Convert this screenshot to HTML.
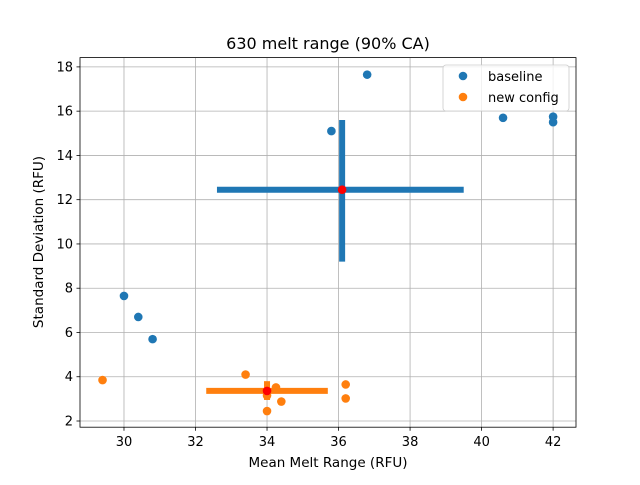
<!DOCTYPE html>
<html><head><meta charset="utf-8"><style>
body{margin:0;background:#fff;font-family:"Liberation Sans","DejaVu Sans",sans-serif}
svg text{font-family:"DejaVu Sans","Liberation Sans",sans-serif}
</style></head><body>
<svg id="c" width="640" height="480"></svg>
<script>
const xTicks=[30,32,34,36,38,40,42];
const yTicks=[2,4,6,8,10,12,14,16,18];
const baseX=[36.8,35.8,40.6,42,42,30,30.4,30.8];
const baseY=[17.65,15.1,15.7,15.75,15.5,7.65,6.7,5.7];
const newX=[29.4,33.4,34.25,34.0,34.0,34.4,36.2,36.2];
const newY=[3.85,4.1,3.52,3.15,2.45,2.88,3.65,3.02];
const baseMean=[36.1,12.45];
const baseXRange=[32.6,39.5];
const baseYRange=[9.2,15.6];
const newMean=[34.0,3.36];
const newXRange=[32.3,35.7];
const newYRange=[2.95,3.8];
const L=80,R=576,T=57.6,B=427.2,xmin=28.77,xmax=42.64,ymin=1.72,ymax=18.42;
const sx=v=>L+(v-xmin)/(xmax-xmin)*(R-L);
const sy=v=>B-(v-ymin)/(ymax-ymin)*(B-T);
const svg=document.getElementById('c');const NS='http://www.w3.org/2000/svg';
function mk(t,a,p){const e=document.createElementNS(NS,t);for(const k in a)e.setAttribute(k,a[k]);(p||svg).appendChild(e);return e;}
xTicks.forEach(v=>{const x=sx(v);
const g=mk('line',{x1:x,x2:x,y1:T,y2:B,stroke:'#b0b0b0','stroke-width':0.8});


mk('line',{x1:x,x2:x,y1:B,y2:B+3.5,stroke:'#000','stroke-width':0.8});
const t=mk('text',{x:x,y:B+19,'text-anchor':'middle','font-size':13});t.textContent=v;

});
yTicks.forEach(v=>{const y=sy(v);
const g=mk('line',{x1:L,x2:R,y1:y,y2:y,stroke:'#b0b0b0','stroke-width':0.8});


mk('line',{x1:L-3.5,x2:L,y1:y,y2:y,stroke:'#000','stroke-width':0.8});
const t=mk('text',{x:L-7,y:y+4.5,'text-anchor':'end','font-size':13});t.textContent=v;

});
function pts(xs,ys,col,name){xs.forEach((v,i)=>{const c=mk('circle',{cx:sx(v),cy:sy(ys[i]),r:4.3,fill:col});

});}
pts(baseX,baseY,'#1f77b4','baseline-point');
pts(newX,newY,'#ff7f0e','new-config-point');
function cross(m,xr,yr,col,name){
const h=mk('line',{x1:sx(xr[0]),x2:sx(xr[1]),y1:sy(m[1]),y2:sy(m[1]),stroke:col,'stroke-width':6});


const v=mk('line',{x1:sx(m[0]),x2:sx(m[0]),y1:sy(yr[0]),y2:sy(yr[1]),stroke:col,'stroke-width':6});


const c=mk('circle',{cx:sx(m[0]),cy:sy(m[1]),r:4.3,fill:'red'});

}
cross(baseMean,baseXRange,baseYRange,'#1f77b4','baseline');
cross(newMean,newXRange,newYRange,'#ff7f0e','new-config');
const fr=mk('rect',{x:L,y:T,width:R-L,height:B-T,fill:'none',stroke:'#000','stroke-width':0.8});


</script>
<svg style="position:absolute;left:0;top:0" width="640" height="480">
<text x="328" y="49" text-anchor="middle" font-size="16">630 melt range (90% CA)</text>
<text x="328" y="467" text-anchor="middle" font-size="13.5">Mean Melt Range (RFU)</text>
<text transform="translate(43,242) rotate(-90)" text-anchor="middle" font-size="13.5">Standard Deviation (RFU)</text>
<g>
<rect x="443" y="65" width="126" height="46" rx="3" fill="#fff" fill-opacity="0.8" stroke="#ccc" stroke-width="0.8"/>
<circle cx="463" cy="76" r="4.3" fill="#1f77b4"/>
<text x="488" y="81" font-size="13">baseline</text>
<circle cx="463" cy="97" r="4.3" fill="#ff7f0e"/>
<text x="488" y="102" font-size="13">new config</text>
</g>
</svg>
</body></html>
